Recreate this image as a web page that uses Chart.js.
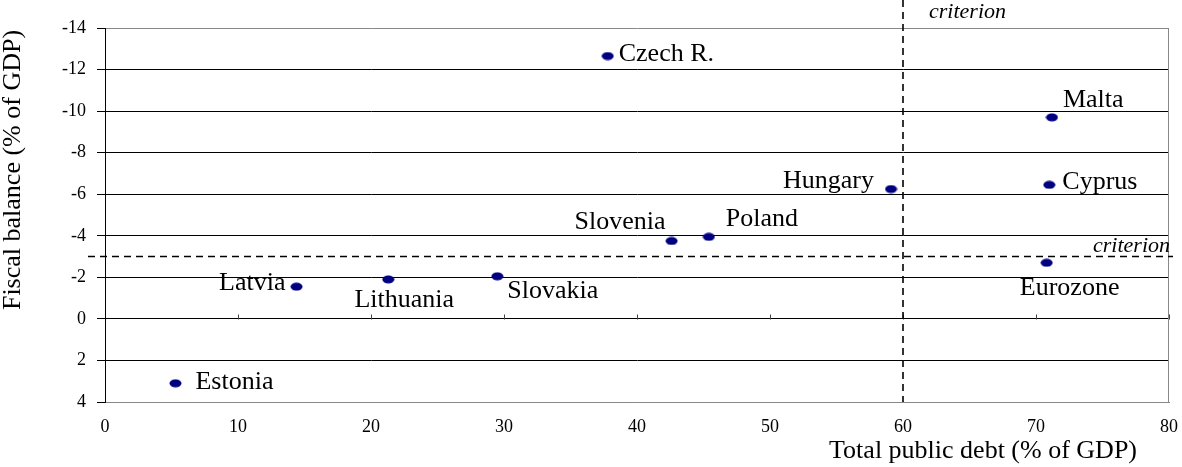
<!DOCTYPE html>
<html>
<head>
<meta charset="utf-8">
<script src="https://cdn.jsdelivr.net/npm/chart.js@4"></script>
<style>
html,body{margin:0;padding:0;background:#fff;}
canvas{display:block;}
</style>
</head>
<body>
<canvas id="c" width="1182" height="467"></canvas>
<script>
// ---- data ----
const categories = ['Czech R.', 'Malta', 'Cyprus', 'Hungary', 'Poland', 'Slovenia', 'Eurozone', 'Latvia', 'Lithuania', 'Slovakia', 'Estonia'];
const debtValues = [37.8, 71.2, 71.0, 59.1, 45.4, 42.6, 70.8, 14.4, 21.3, 29.5, 5.3];
const balanceValues = [-12.65, -9.7, -6.45, -6.25, -3.95, -3.75, -2.7, -1.55, -1.9, -2.05, 3.1];
const xTickValues = [0, 10, 20, 30, 40, 50, 60, 70, 80];
const yTickValues = [-14, -12, -10, -8, -6, -4, -2, 0, 2, 4];
const debtCriterion = 60;
const balanceCriterion = -3;
const criterionLabel = 'criterion';
const xTitle = 'Total public debt (% of GDP)';
const yTitle = 'Fiscal balance (% of GDP)';

// ---- styling / placement ----
const SERIF = "'Liberation Serif', 'Times New Roman', serif";
const labelPlacement = {
  'Czech R.': {dx: 11, dy: -2, align: 'left'},
  'Malta': {dx: 11, dy: -17, align: 'left'},
  'Cyprus': {dx: 13, dy: -3, align: 'left'},
  'Hungary': {dx: -17, dy: -8, align: 'right'},
  'Poland': {dx: 17, dy: -18, align: 'left'},
  'Slovenia': {dx: -6, dy: -19, align: 'right'},
  'Eurozone': {dx: 23, dy: 25, align: 'center'},
  'Latvia': {dx: -11, dy: -4, align: 'right'},
  'Lithuania': {dx: 16, dy: 21, align: 'center'},
  'Slovakia': {dx: 10, dy: 15, align: 'left'},
  'Estonia': {dx: 20, dy: -1, align: 'left'}
};

const dot = document.createElement('canvas');
dot.width = 13; dot.height = 9;
(function(){
  const g = dot.getContext('2d');
  g.fillStyle = '#000080';
  g.beginPath();
  g.ellipse(6.5, 4.5, 6, 4, 0, 0, Math.PI * 2);
  g.fill();
})();

const points = debtValues.map((x, i) => ({x: x, y: balanceValues[i]}));

const decor = {
  id: 'decor',
  beforeDatasetsDraw(chart) {
    const {ctx, chartArea: a, scales: {x, y}} = chart;
    ctx.save();
    // right border
    ctx.strokeStyle = '#888';
    ctx.lineWidth = 1;
    ctx.beginPath();
    ctx.moveTo(Math.round(a.right) - 0.5, a.top);
    ctx.lineTo(Math.round(a.right) - 0.5, a.bottom);
    ctx.stroke();
    // small tick marks on the zero line
    const y0 = Math.round(y.getPixelForValue(0)) + 0.5;
    ctx.strokeStyle = '#444';
    ctx.beginPath();
    xTickValues.forEach(v => {
      if (v === 0) return;
      const px = Math.round(x.getPixelForValue(v)) + 0.5;
      ctx.moveTo(px, y0);
      ctx.lineTo(px, y0 - 5);
    });
    ctx.stroke();
    // criterion lines
    ctx.strokeStyle = '#000';
    ctx.lineWidth = 1.6;
    ctx.setLineDash([7, 5]);
    const yc = y.getPixelForValue(balanceCriterion);
    ctx.beginPath();
    ctx.moveTo(a.left - 17, yc);
    ctx.lineTo(a.right + 4, yc);
    ctx.stroke();
    const xc = x.getPixelForValue(debtCriterion);
    ctx.beginPath();
    ctx.moveTo(xc, 0);
    ctx.lineTo(xc, a.bottom);
    ctx.stroke();
    ctx.restore();
  },
  afterDatasetsDraw(chart) {
    const {ctx, chartArea: a, scales: {x, y}} = chart;
    const meta = chart.getDatasetMeta(0);
    ctx.save();
    ctx.fillStyle = '#000';
    ctx.font = '26px ' + SERIF;
    ctx.textBaseline = 'middle';
    meta.data.forEach((el, i) => {
      const name = categories[i];
      const p = labelPlacement[name];
      ctx.textAlign = p.align;
      ctx.fillText(name, el.x + p.dx, el.y + p.dy);
    });
    // criterion labels
    ctx.font = 'italic 22px ' + SERIF;
    ctx.textAlign = 'left';
    ctx.fillText(criterionLabel, x.getPixelForValue(debtCriterion) + 26, 12);
    ctx.textAlign = 'right';
    ctx.fillText(criterionLabel, a.right + 1, y.getPixelForValue(balanceCriterion) - 10);
    // axis titles
    ctx.font = '26px ' + SERIF;
    ctx.textAlign = 'right';
    ctx.fillText(xTitle, 1137, 451);
    ctx.translate(13, 170);
    ctx.rotate(-Math.PI / 2);
    ctx.textAlign = 'center';
    ctx.fillText(yTitle, 0, 0);
    ctx.restore();
  }
};

new Chart(document.getElementById('c'), {
  type: 'scatter',
  data: {
    datasets: [{
      data: points,
      pointStyle: dot,
      pointRadius: 6,
      pointHoverRadius: 6
    }]
  },
  options: {
    responsive: false,
    devicePixelRatio: 1,
    animation: false,
    events: [],
    layout: {padding: {top: 28, right: 13, left: 0, bottom: 0}},
    plugins: {legend: {display: false}, tooltip: {enabled: false}},
    scales: {
      x: {
        type: 'linear',
        min: xTickValues[0],
        max: xTickValues[xTickValues.length - 1],
        afterBuildTicks: s => { s.ticks = xTickValues.map(v => ({value: v})); },
        afterFit: s => { s.height = 65; s.paddingLeft = 0; s.paddingRight = 0; },
        grid: {display: false, drawTicks: false},
        border: {display: true, color: '#888', width: 1},
        ticks: {color: '#000', font: {family: SERIF, size: 18}, padding: 14, maxRotation: 0}
      },
      y: {
        type: 'linear',
        reverse: true,
        min: yTickValues[0],
        max: yTickValues[yTickValues.length - 1],
        afterBuildTicks: s => { s.ticks = yTickValues.map(v => ({value: v})); },
        afterFit: s => { s.width = 105; },
        grid: {
          color: c => (c.tick && (c.tick.value === yTickValues[0] || c.tick.value === yTickValues[yTickValues.length - 1])) ? '#888' : '#000',
          tickColor: '#000',
          lineWidth: 1,
          tickLength: 8
        },
        border: {display: true, color: '#000', width: 1},
        ticks: {color: '#000', font: {family: SERIF, size: 18}, padding: 11}
      }
    }
  },
  plugins: [decor]
});
</script>
</body>
</html>
